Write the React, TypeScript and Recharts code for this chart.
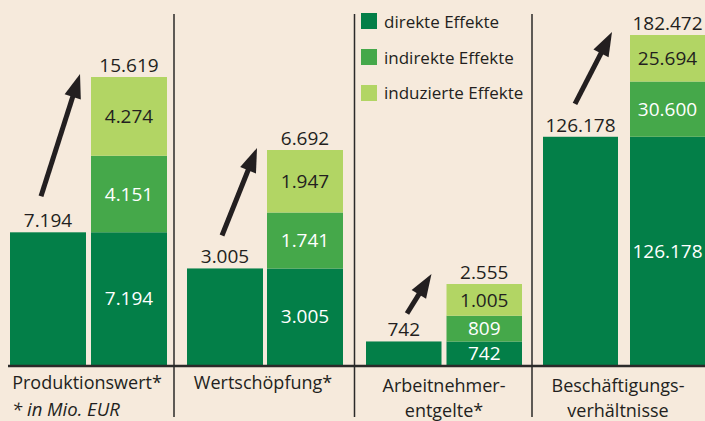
import React from "react";
import { BarChart, Bar, XAxis, YAxis, LabelList } from "recharts";

// ---------- data ----------
const categories: string[][] = [
  ["Produktionswert*"],
  ["Wertschöpfung*"],
  ["Arbeitnehmer-", "entgelte*"],
  ["Beschäftigungs-", "verhältnisse"],
];
const directEffects = [7194, 3005, 742, 126178];
const indirectEffects = [4151, 1741, 809, 30600];
const inducedEffects = [4274, 1947, 1005, 25694];
const totalEffects = [15619, 6692, 2555, 182472];
const legendLabels = ["direkte Effekte", "indirekte Effekte", "induzierte Effekte"];
const footnote = "* in Mio. EUR";
// per-panel value-axis maximum (each panel has its own scale)
const yMax = [19790, 11360, 11510, 201800];

// ---------- style ----------
const BG = "#F6EADC";
const DARK = "#037F48";
const MID = "#45A84A";
const LIGHT = "#B2D564";
const INK = "#231F20";
const FONT = "'Open Sans', 'Noto Sans', sans-serif";
const PLOT_H = 365;

const PANELS = [
  { left: 6.5, bar: 76, gap: 5 },
  { left: 185, bar: 76, gap: 4 },
  { left: 362.5, bar: 75.5, gap: 5 },
  { left: 537, bar: 75, gap: 12 },
];
const SEPARATORS = [174, 354.5, 532];
const PANEL_CENTERS = [87, 263, 444, 618];
const ARROWS = [
  { tailDx: 31, tailDy: 36, tipDx: 11, tipDy: 3 },
  { tailDx: 35, tailDy: 33, tipDx: 10, tipDy: 2 },
  { tailDx: 41, tailDy: 28, tipDx: 15, tipDy: 10 },
  { tailDx: 32, tailDy: 33, tipDx: 18, tipDy: 3 },
];

const fmt = (v: any) =>
  v == null ? "" : String(Math.round(Number(v))).replace(/\B(?=(\d{3})+(?!\d))/g, ".");

const buildRows = (i: number) => [
  { key: "einzeln", single: directEffects[i], arrowTo: totalEffects[i] },
  {
    key: "gesamt",
    direct: directEffects[i],
    indirect: indirectEffects[i],
    induced: inducedEffects[i],
    total: totalEffects[i],
  },
];

const makeSingleShape = (p: number) => (props: any) => {
  const { x, y, width, height, payload } = props;
  if (!payload || !payload.single || !height) return <g />;
  const base = y + height;
  const ppu = height / payload.single;
  const stackTop = base - payload.arrowTo * ppu;
  const o = ARROWS[p];
  const ax = x + o.tailDx;
  const ay = y - o.tailDy;
  const tx = x + width + PANELS[p].gap - o.tipDx;
  const ty = stackTop - o.tipDy;
  const dx = tx - ax;
  const dy = ty - ay;
  const len = Math.sqrt(dx * dx + dy * dy);
  const ux = dx / len;
  const uy = dy / len;
  const headLen = 24;
  const hw = 8.5;
  const bx = tx - ux * headLen;
  const by = ty - uy * headLen;
  const px = -uy;
  const py = ux;
  return (
    <g>
      <rect x={x} y={y} width={width} height={height} fill={DARK} />
      <line
        x1={ax}
        y1={ay}
        x2={bx + ux * 3}
        y2={by + uy * 3}
        stroke={INK}
        strokeWidth={5}
      />
      <polygon
        points={`${tx},${ty} ${bx + px * hw},${by + py * hw} ${bx - px * hw},${by - py * hw}`}
        fill={INK}
      />
    </g>
  );
};

const labelStyle = { fontFamily: FONT, fontSize: 19, fontWeight: 500 };

const Panel = ({ i }: { i: number }) => {
  const p = PANELS[i];
  const w = 2 * (p.bar + p.gap);
  return (
    <div style={{ position: "absolute", left: p.left, top: 0, width: w, height: PLOT_H }}>
      <BarChart
        width={w}
        height={PLOT_H}
        data={buildRows(i)}
        margin={{ top: 0, right: 0, bottom: 0, left: 0 }}
        barSize={p.bar}
        style={{ overflow: "visible" }}
      >
        <XAxis dataKey="key" hide />
        <YAxis hide domain={[0, yMax[i]]} allowDataOverflow />
        <Bar
          dataKey="single"
          stackId="s"
          fill={DARK}
          isAnimationActive={false}
          shape={makeSingleShape(i)}
        >
          <LabelList dataKey="single" position="top" offset={5} formatter={fmt} fill={INK} {...labelStyle} />
        </Bar>
        <Bar dataKey="direct" stackId="s" fill={DARK} isAnimationActive={false}>
          <LabelList dataKey="direct" position="center" formatter={fmt} fill="#FFFFFF" {...labelStyle} />
        </Bar>
        <Bar dataKey="indirect" stackId="s" fill={MID} isAnimationActive={false}>
          <LabelList dataKey="indirect" position="center" formatter={fmt} fill="#FFFFFF" {...labelStyle} />
        </Bar>
        <Bar dataKey="induced" stackId="s" fill={LIGHT} isAnimationActive={false}>
          <LabelList dataKey="induced" position="center" formatter={fmt} fill={INK} {...labelStyle} />
          <LabelList dataKey="total" position="top" offset={5} formatter={fmt} fill={INK} {...labelStyle} />
        </Bar>
      </BarChart>
    </div>
  );
};

const legendColors = [DARK, MID, LIGHT];

export default function App() {
  return (
    <div
      style={{
        position: "absolute",
        left: 0,
        top: 0,
        width: 705,
        height: 421,
        background: BG,
        overflow: "hidden",
        fontFamily: FONT,
      }}
    >
      {categories.map((_, i) => (
        <Panel key={i} i={i} />
      ))}
      <svg
        width={705}
        height={421}
        style={{ position: "absolute", left: 0, top: 0, pointerEvents: "none" }}
      >
        <line x1={8} y1={366} x2={705} y2={366} stroke="#2B2A29" strokeWidth={2.5} />
        {SEPARATORS.map((x) => (
          <line key={x} x1={x} y1={14} x2={x} y2={417} stroke="#2B2A29" strokeWidth={1.5} />
        ))}
        {legendLabels.map((t, k) => (
          <g key={t}>
            <rect x={361} y={13 + k * 36} width={16} height={16} fill={legendColors[k]} />
            <text x={384} y={28 + k * 35.5} fontSize={17} fontWeight={500} fill={INK} fontFamily={FONT}>
              {t}
            </text>
          </g>
        ))}
        {categories.map((lines, i) =>
          lines.map((ln, j) => (
            <text
              key={i + "-" + j}
              x={PANEL_CENTERS[i]}
              y={(lines.length === 1 ? 389 : 392) + j * 25}
              textAnchor="middle"
              fontSize={18}
              fontWeight={500}
              fill={INK}
              fontFamily={FONT}
            >
              {ln}
            </text>
          ))
        )}
        <text x={12} y={416} fontSize={18.5} fontStyle="italic" fill={INK} fontFamily={FONT}>
          {footnote}
        </text>
      </svg>
    </div>
  );
}
